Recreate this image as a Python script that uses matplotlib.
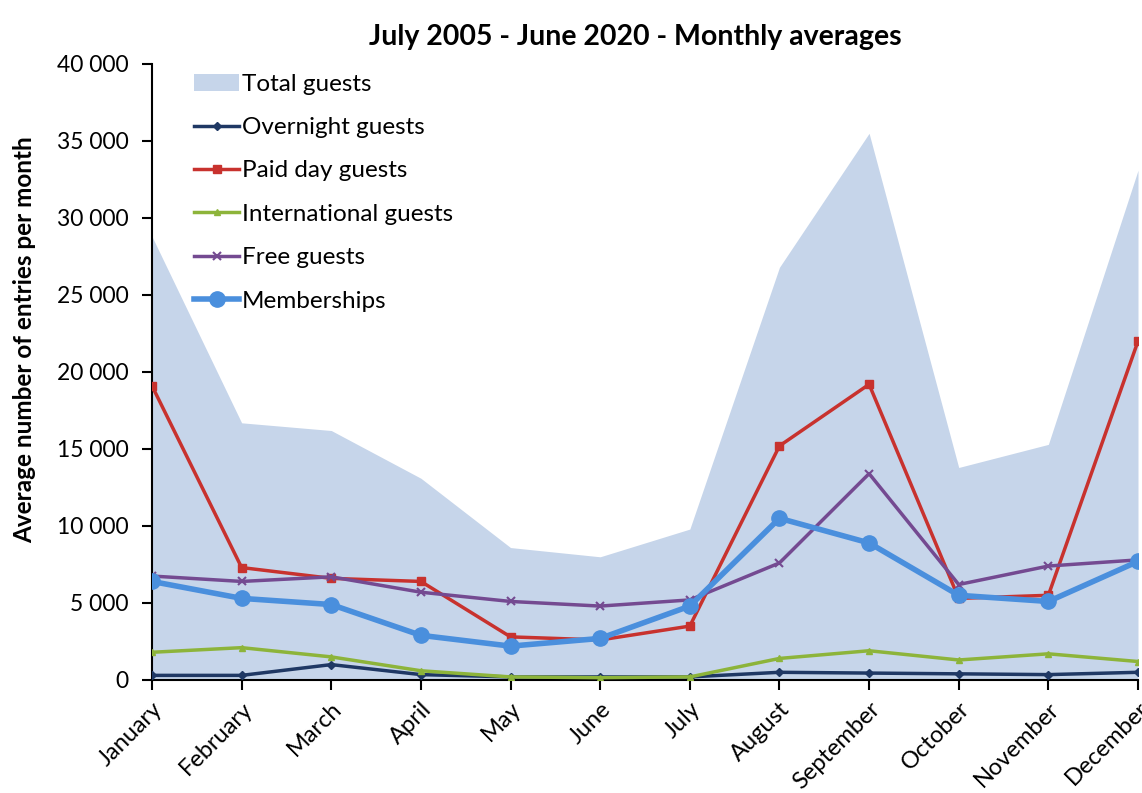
import matplotlib
matplotlib.use("Agg")
import matplotlib.pyplot as plt
from matplotlib.ticker import FuncFormatter, MultipleLocator

plt.rcParams['font.family'] = ['Lato', 'DejaVu Sans']

months = ["January", "February", "March", "April", "May", "June",
          "July", "August", "September", "October", "November", "December"]

total_guests = [28800, 16700, 16200, 13100, 8600, 8000, 9800, 26800, 35500, 13800, 15300, 33100]
overnight_guests = [300, 300, 1000, 350, 200, 200, 200, 500, 450, 400, 350, 500]
paid_day_guests = [19100, 7300, 6600, 6400, 2800, 2600, 3500, 15200, 19200, 5300, 5500, 22000]
international_guests = [1800, 2100, 1500, 600, 200, 150, 200, 1400, 1900, 1300, 1700, 1200]
free_guests = [6750, 6400, 6700, 5700, 5100, 4800, 5200, 7600, 13400, 6200, 7400, 7800]
memberships = [6400, 5300, 4900, 2900, 2200, 2700, 4800, 10500, 8900, 5500, 5100, 7700]

title = "July 2005 - June 2020 - Monthly averages"
ylabel = "Average number of entries per month"

fig = plt.figure(figsize=(11.42, 7.93), dpi=100)
ax = fig.add_axes([0.1331, 0.1425, 0.8634, 0.7768])

x = list(range(len(months)))

ax.fill_between(x, 0, total_guests, color="#C6D5EA", linewidth=0, label="Total guests", zorder=1)
ax.plot(x, overnight_guests, color="#1F3864", lw=2.5, marker="D", ms=4, label="Overnight guests", zorder=3)
ax.plot(x, paid_day_guests, color="#C8322E", lw=2.5, marker="s", ms=6, label="Paid day guests", zorder=3)
ax.plot(x, international_guests, color="#8DB43A", lw=2.5, marker="^", ms=5, label="International guests", zorder=3)
ax.plot(x, free_guests, color="#744A91", lw=2.5, marker="x", ms=6, mew=1.5, label="Free guests", zorder=3)
ax.plot(x, memberships, color="#4A8FDD", lw=4, marker="o", ms=11, label="Memberships", zorder=4)

ax.set_xlim(0, 11)
ax.set_ylim(0, 40000)
ax.yaxis.set_major_locator(MultipleLocator(5000))
ax.yaxis.set_major_formatter(FuncFormatter(lambda v, p: f"{int(v):,}".replace(",", " ")))

ax.set_xticks(x)
ax.set_xticklabels(months, rotation=45, ha="right", rotation_mode="anchor", fontsize=17)
ax.tick_params(axis="y", labelsize=16.5, direction="out", length=7, width=1.5, pad=10)
ax.tick_params(axis="x", direction="out", length=7, width=1.5, pad=6)

for s in ["top", "right"]:
    ax.spines[s].set_visible(False)
for s in ["left", "bottom"]:
    ax.spines[s].set_linewidth(1.5)
    ax.spines[s].set_color("black")

ax.set_ylabel(ylabel, fontsize=17.5, fontweight="bold")
ax.yaxis.set_label_coords(-0.118, 0.552)
ax.set_title(title, fontsize=20.5, fontweight="bold", pad=14, x=0.49)

leg = ax.legend(loc="upper left", bbox_to_anchor=(0.033, 1.0), frameon=False, fontsize=17.5,
                handlelength=1.85, handletextpad=0.1, labelspacing=0.92, borderaxespad=0)

fig.savefig("out.png", dpi=100)
